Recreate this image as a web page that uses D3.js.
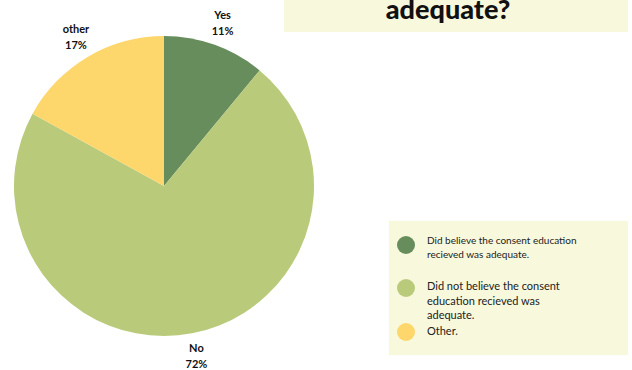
<!DOCTYPE html>
<html>
<head>
<meta charset="utf-8">
<script src="https://cdn.jsdelivr.net/npm/d3@7"></script>
<style>
  body { margin: 0; background: #fff; }
  svg { display: block; }
</style>
</head>
<body>
<div id="vis"></div>
<script>
// frame
const FRAME_WIDTH = 632;
const FRAME_HEIGHT = 370;

// data
const categories = ["Yes", "No", "other"];
const values = [11, 72, 17];
const pctLabels = ["11%", "72%", "17%"];
const legendLabels = [
  ["Did believe the consent education", "recieved was adequate."],
  ["Did not believe the consent", "education recieved was", "adequate."],
  ["Other."]
];
const colors = ["#678d5d", "#b9cb7b", "#fdd66c"];

const FRAME = d3.select("#vis")
  .append("svg")
    .attr("width", FRAME_WIDTH)
    .attr("height", FRAME_HEIGHT);

// title box (top part cut off in the picture)
FRAME.append("rect")
  .attr("x", 284).attr("y", -10)
  .attr("width", 344).attr("height", 42)
  .attr("fill", "#f8f8dd");

FRAME.append("text")
  .attr("x", 448).attr("y", 19)
  .attr("text-anchor", "middle")
  .attr("font-family", "Lato, sans-serif")
  .attr("font-weight", 900)
  .attr("font-size", "27px")
  .attr("fill", "#111")
  .text("adequate?");

// pie
const CX = 164, CY = 186, R = 150;
const data = categories.map((c, i) => ({cat: c, value: values[i], pct: pctLabels[i], i: i}));

const pie = d3.pie().sort(null).value(d => d.value);
const arc = d3.arc().innerRadius(0).outerRadius(R);
const labelArc = d3.arc().innerRadius(173).outerRadius(173);

const g = FRAME.append("g").attr("transform", "translate(" + CX + "," + CY + ")");

g.selectAll("path")
  .data(pie(data))
  .enter()
  .append("path")
    .attr("d", arc)
    .attr("fill", d => colors[d.data.i]);

const labels = g.selectAll(".lbl")
  .data(pie(data))
  .enter()
  .append("text")
    .attr("class", "lbl")
    .attr("transform", d => "translate(" + labelArc.centroid(d) + ")")
    .attr("text-anchor", "middle")
    .attr("font-family", "Lato, sans-serif")
    .attr("font-weight", 700)
    .attr("font-size", "11px")
    .attr("fill", "#111");

labels.append("tspan").attr("x", 0).attr("y", -4).text(d => d.data.cat);
labels.append("tspan").attr("x", 0).attr("y", 12).text(d => d.data.pct);

// legend
FRAME.append("rect")
  .attr("x", 389).attr("y", 221)
  .attr("width", 239).attr("height", 134)
  .attr("fill", "#f8f8dd");

const legendY = [245, 288, 332];
const legend = FRAME.selectAll(".leg")
  .data(legendLabels)
  .enter()
  .append("g")
    .attr("class", "leg")
    .attr("transform", (d, i) => "translate(406," + legendY[i] + ")");

legend.append("circle")
  .attr("r", 9)
  .attr("fill", (d, i) => colors[i]);

legend.each(function(lines, i) {
  const t = d3.select(this).append("text")
    .attr("font-family", "Lato, sans-serif")
    .attr("font-size", i === 0 ? "10px" : "11px")
    .attr("fill", "#222");
  const lh = i === 0 ? 14 : 14.5;
  const y0 = i === 0 ? -1 : (i === 1 ? 2 : 3);
  lines.forEach((l, k) => {
    t.append("tspan").attr("x", 21).attr("y", y0 + k * lh).text(l);
  });
});
</script>
</body>
</html>
